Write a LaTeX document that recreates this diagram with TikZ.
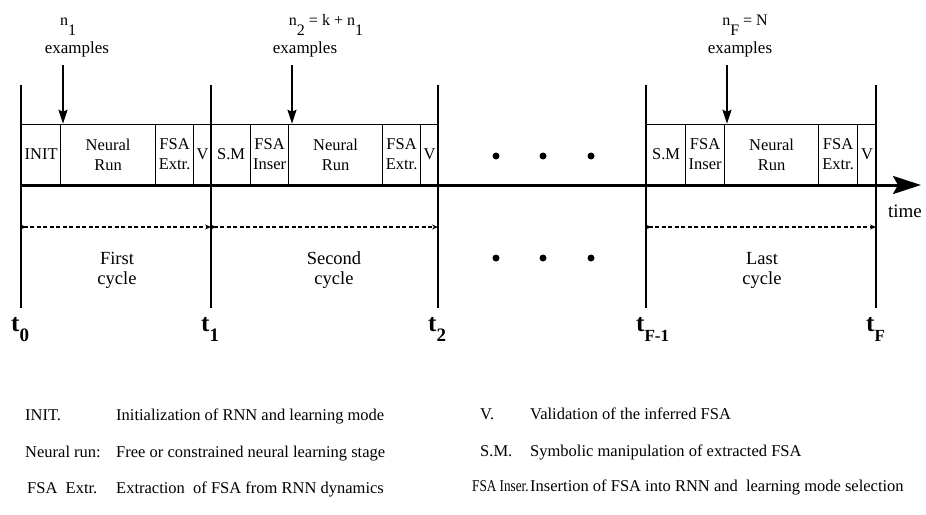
\documentclass[tikz,border=0pt]{standalone}
\usepackage{fontspec}
\setmainfont{Liberation Serif}
\usetikzlibrary{arrows.meta}
\newcommand{\lowsub}[2]{#1\raisebox{-10pt}{#2}}

\begin{document}
\begin{tikzpicture}[x=1pt,y=-1pt,
 phase/.style={draw,line width=1.2pt,inner sep=0pt,minimum height=60pt,
 anchor=south west,align=center,font=\fontsize{16.5}{20}\selectfont},
 boundary/.style={line width=1.8pt},
 axis/.style={line width=3pt,-{Stealth[length=28pt,width=18pt,inset=5pt]}},
 drop/.style={line width=2pt,-{Stealth[length=14pt,width=9pt,inset=2pt]}},
 span/.style={line width=1.1pt,dash pattern=on 4pt off 2.5pt,
 {Circle[open,length=3.5pt]}-{Stealth[length=6pt,width=5pt]}},
 lbl/.style={anchor=base,inner sep=0pt,font=\fontsize{16}{18}\selectfont},
 cyc/.style={align=center,font=\fontsize{18.5}{20}\selectfont},
 tlab/.style={anchor=base west,inner sep=0pt,font=\fontsize{25}{28}\selectfont\bfseries},
 key/.style={anchor=base west,inner sep=0pt,font=\fontsize{16.5}{18}\selectfont}
]
\useasboundingbox (0,0) rectangle (926,514);

% phases of each cycle
\foreach \x/\w/\txt/\nm in {21/39/INIT/init1, 60/95/{Neural\\Run}/run1,
 155/38/{FSA\\Extr.}/ext1, 193/18/V/val1,
 211/39/S.M/sm2, 250/38/{FSA\\Inser}/ins2, 288/94/{Neural\\Run}/run2,
 382/38/{FSA\\Extr.}/ext2, 420/18/V/val2,
 646/39/S.M/smF, 685/39/{FSA\\Inser}/insF, 724/94/{Neural\\Run}/runF,
 818/39/{FSA\\Extr.}/extF, 857/19/V/valF}
 \node[phase,minimum width=\w pt] (\nm) at (\x,185) {\txt};

% time axis
\coordinate (origin) at (21,185);
\coordinate (tip) at (921,185);
\draw[axis] (origin) -- (tip);
\node[font=\fontsize{19}{20}\selectfont] (time) at (905,211) {time};

% cycle boundaries
\foreach \x/\i in {21/0,211/1,438/2,646/3,876/4} {
 \coordinate (top\i) at (\x,85);
 \coordinate (bot\i) at (\x,308);
 \coordinate (mid\i) at (\x,227);
 \draw[boundary] (top\i) -- (bot\i);
}
\draw[span] (mid0) -- (mid1);
\draw[span] (mid1) -- (mid2);
\draw[span] (mid3) -- (mid4);

\node[cyc] (first) at (117,270) {First\\cycle};
\node[cyc] (second) at (334,270) {Second\\cycle};
\node[cyc] (last) at (762,270) {Last\\cycle};

\node[tlab] (t0) at (11,331) {\lowsub{t}{\fontsize{19}{20}\selectfont 0}};
\node[tlab] (t1) at (201,331) {\lowsub{t}{\fontsize{19}{20}\selectfont 1}};
\node[tlab] (t2) at (428,331) {\lowsub{t}{\fontsize{19}{20}\selectfont 2}};
\node[tlab] (tF1) at (636,331) {\lowsub{t}{\fontsize{17}{20}\selectfont F-1}};
\node[tlab] (tF) at (866,331) {\lowsub{t}{\fontsize{17}{20}\selectfont F}};

% dots
\foreach \x in {496,543,591} {
 \fill (\x,156) circle (3.5);
 \fill (\x,258) circle (3.5);
}

% incoming examples
\node[lbl] (n1) at (68,25) {\lowsub{n}{1}};
\node[lbl,font=\fontsize{17}{18}\selectfont] (ex1) at (77,53) {examples};
\node[lbl] (n2) at (326,25) {\lowsub{n}{2} = k + \lowsub{n}{1}};
\node[lbl,font=\fontsize{17}{18}\selectfont] (ex2) at (305,53) {examples};
\node[lbl] (nF) at (745,25) {\lowsub{n}{F} = N};
\node[lbl,font=\fontsize{17}{18}\selectfont] (exF) at (740,53) {examples};
\coordinate (a1) at (63,65);
\coordinate (a2) at (292,65);
\coordinate (aF) at (727,65);
\draw[drop] (a1) -- (a1 |- run1.north);
\draw[drop] (a2) -- (a2 |- run2.north);
\draw[drop] (aF) -- (aF |- runF.north);

% legend
\node[key] (k1) at (25,420) {INIT.};
\node[key] (d1) at (116,420) {Initialization of RNN and learning mode};
\node[key] (k2) at (25,457) {Neural run:};
\node[key] (d2) at (116,457) {Free or constrained neural learning stage};
\node[key] (k3) at (27,493) {FSA\ \ Extr.};
\node[key] (d3) at (116,493) {Extraction\ \ of FSA from RNN dynamics};
\node[key] (k4) at (480,419) {V.};
\node[key] (d4) at (530,419) {Validation of the inferred FSA};
\node[key] (k5) at (480,456) {S.M.};
\node[key] (d5) at (530,456) {Symbolic manipulation of extracted FSA};
\node[key] (k6) at (472,491) {\scalebox{.8}[1]{FSA Inser.}};
\node[key] (d6) at (530,491) {Insertion of FSA into RNN and\ \ learning mode selection};
\end{tikzpicture}
\end{document}
